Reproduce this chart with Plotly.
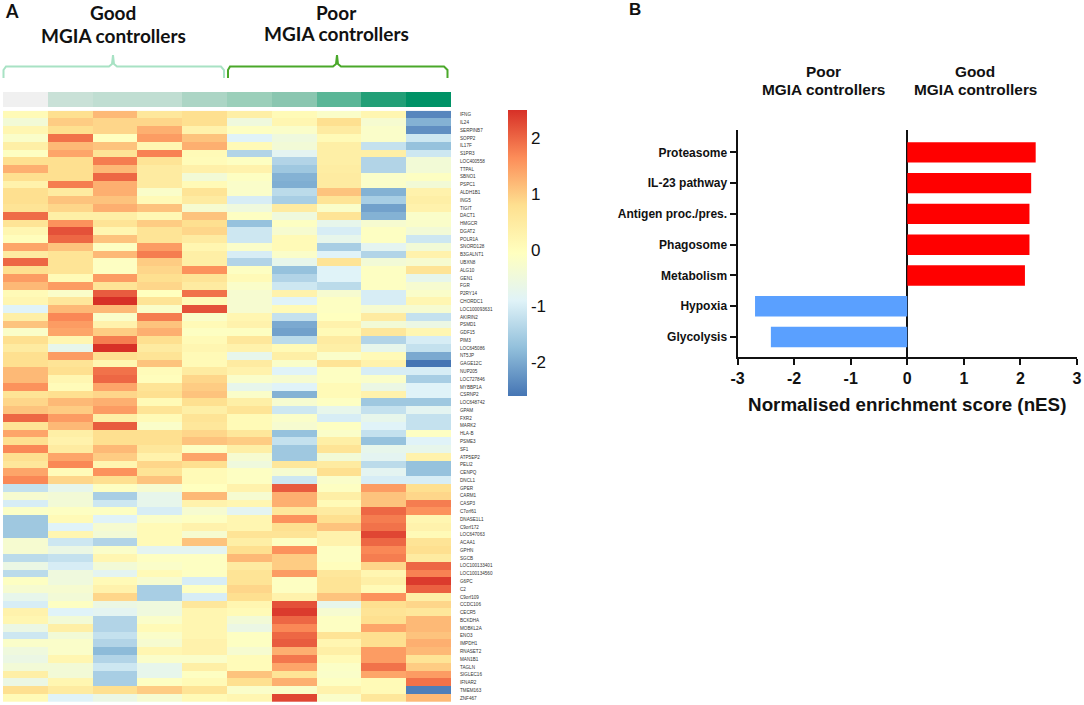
import plotly.graph_objects as go

W, H = 1084, 705

genes = ["IFNG","IL24","SERPINB7","SOPP2","IL17F","S1PR3","LOC400558","TTPAL","SBNO1","PSPC1","ALDH1B1","ING5","TIGIT","DACT1","HMGCR","DGAT2","POLR1A","SNORD128","B3GALNT1","UBXN8","ALG10","GEN1","FGR","P2RY14","CHORDC1","LOC100093631","AKIRIN2","PSMD1","GDF15","PIM3","LOC645086","NT5JP","GAGE12C","NUP205","LOC727846","MYBBP1A","CSRNP2","LOC648742","GPAM","FXR2","MARK2","HLA-B","PSME3","SF1","ATP5EP2","PELI2","CENPQ","DNCL1","GPER","CARM1","CASP3","C7orf61","DNASE1L1","C9orf172","LOC647063","ACAA1","GPHN","SGCB","LOC100133401","LOC100134560","G6PC","C2","C9orf109","CCDC106","CECR5","BCKDHA","MOBKL2A","ENO3","IMPDH1","RNASET2","MAN1B1","TAGLN","SIGLEC16","IFNAR2","TMEM163","ZNF467"]

samples = ["S1","S2","S3","S4","S5","S6","S7","S8","S9","S10"]

expression = [
[0.1,0.8,1.2,0.6,0.8,0.4,0.1,-0.2,0.2,-2.4],
[-0.4,1.0,0.9,0.9,0.8,-0.5,0.2,0.8,-0.3,-1.9],
[0.2,0.8,0.9,1.3,0.3,-0.1,-0.2,0.5,-0.2,-2.3],
[-0.2,1.9,-0.05,1.5,1.1,-0.9,-0.5,0.1,-0.2,-1.1],
[0.4,1.2,1.1,0.2,1.3,0.1,-0.4,0.4,-1.2,-1.7],
[-0.1,1.4,0.7,1.75,0.1,-1.4,-0.8,0.4,0.4,-1.1],
[0.8,0.8,1.8,0.7,0.05,-0.1,-1.4,0.4,-1.4,-0.4],
[1.3,0.8,1.2,0.5,0.35,0.3,-1.6,0.45,-1.4,-0.4],
[0.8,0.8,2.0,0.5,-0.4,-0.1,-1.9,0.5,-0.2,-0.1],
[0.3,1.8,1.3,0.5,0.1,-0.2,-1.95,0.5,-0.2,-0.4],
[0.8,0.5,1.3,-0.2,0.7,-0.2,-1.3,1.1,-1.9,0.3],
[0.8,1.1,1.1,0.1,0.5,-1.0,-1.5,0.7,-1.5,0.4],
[0.7,0.9,1.3,1.1,-0.3,-0.5,0.5,-0.2,-2.1,0.3],
[1.95,0.4,0.4,0.15,1.1,-0.1,-0.5,0.7,-1.9,-0.2],
[0.7,1.6,0.7,1.0,0.8,-1.7,-0.1,-0.7,-0.3,-0.2],
[0.2,2.2,0.2,0.7,0.9,-1.1,-0.3,-1.0,-0.1,-0.4],
[0.0,2.0,1.1,0.7,0.5,-1.1,0.1,-0.7,-0.1,-1.1],
[1.4,1.1,-0.1,1.5,0.2,-0.2,0.1,-1.5,-0.8,-0.4],
[0.5,0.7,1.2,1.8,0.4,-1.0,-0.2,-0.9,-1.4,0.3],
[2.0,0.7,-0.1,1.0,0.4,-1.4,-0.7,0.7,-0.4,-0.3],
[0.8,0.7,-0.1,0.9,1.6,-0.1,-1.7,-0.9,-0.1,0.7],
[1.5,0.1,1.5,0.8,0.7,0.1,-1.4,-0.9,-0.1,-0.7],
[1.2,1.5,0.7,0.9,0.5,-0.2,-1.1,-1.3,-0.1,-0.3],
[0.1,-0.2,2.1,-0.05,1.9,-0.3,0.3,-0.3,-1.0,-0.2],
[0.2,0.6,2.5,0.7,0.1,-0.3,-0.9,-0.1,-1.0,0.2],
[-0.9,1.2,1.2,-0.2,2.2,-0.3,0.1,-0.1,-0.3,-0.3],
[0.4,1.7,-0.2,1.8,-0.2,0.2,-1.2,-0.05,0.5,-1.2],
[1.1,1.5,0.3,1.1,0.1,0.3,-2.0,0.3,-0.4,-0.6],
[-0.2,1.4,1.0,1.3,-0.1,-0.1,-2.1,0.1,0.6,0.2],
[0.8,0.2,1.8,0.8,0.1,0.6,-1.3,0.5,-1.4,-1.0],
[0.5,-0.7,2.5,0.5,0.2,0.3,0.1,0.4,-0.7,-1.2],
[0.8,1.5,0.8,0.7,0.1,-0.7,0.4,-0.2,0.1,-2.0],
[0.8,0.7,0.2,1.1,0.1,0.5,-0.2,0.7,0.3,-2.6],
[1.2,0.8,1.9,0.05,0.5,0.3,-0.9,-0.1,-1.0,-1.0],
[1.2,0.2,2.0,0.0,0.9,-0.2,-0.3,-0.1,-0.2,-1.5],
[1.6,0.05,1.4,0.7,1.0,-0.7,-0.9,0.1,-0.6,-0.9],
[0.7,0.8,0.9,0.8,1.1,-0.2,-1.9,0.1,0.3,-0.9],
[0.9,1.2,1.3,0.1,0.8,0.4,-0.3,-0.1,-1.6,-1.6],
[1.1,1.0,1.5,0.7,0.4,0.7,-1.1,-0.7,-1.2,-0.8],
[2.0,1.5,0.4,0.1,0.7,0.1,-0.2,-1.0,-0.7,-1.2],
[0.7,1.2,2.1,-0.2,0.6,0.1,-0.3,-0.1,-0.9,-1.2],
[1.4,0.4,0.8,0.8,0.9,0.6,-1.7,-0.2,-1.2,-0.1],
[0.8,0.3,0.8,0.8,1.1,1.0,-1.2,0.4,-1.7,-0.9],
[1.7,0.5,1.2,0.6,-0.1,0.4,-1.6,0.7,-0.7,-0.7],
[0.8,1.4,1.0,0.3,1.4,-0.3,-1.6,-0.4,-0.8,0.3],
[0.6,1.7,0.2,0.9,0.8,-0.5,0.6,0.5,-1.3,-1.7],
[1.4,0.05,1.6,0.7,0.1,-0.1,-0.3,0.8,-0.8,-1.7],
[1.7,0.9,0.8,1.1,0.1,-0.1,-1.1,-0.2,-1.0,-1.0],
[-1.2,-0.7,-0.1,-0.3,-0.05,0.3,2.1,-0.1,1.5,0.8],
[-0.3,-0.4,-1.5,-0.7,1.2,-0.3,1.3,0.4,1.1,0.9],
[-1.0,-0.4,-1.1,-0.7,0.3,0.2,1.3,0.1,1.1,1.8],
[-0.15,-0.1,-0.1,-1.0,-0.3,-0.8,0.6,0.5,2.0,1.6],
[-1.6,0.1,-0.9,-0.2,-0.1,0.2,1.6,0.8,1.8,0.2],
[-1.6,-0.9,-0.3,0.1,0.3,0.2,0.8,1.1,1.9,0.3],
[-1.6,0.2,-0.4,0.1,-0.3,0.7,0.7,0.3,2.3,0.1],
[-0.3,-1.1,-1.4,0.1,1.1,0.4,-0.1,0.3,2.0,0.7],
[-0.3,-0.6,-0.2,-0.8,-0.8,0.8,1.6,-0.1,1.7,0.8],
[-1.3,-1.2,0.2,-0.1,-0.1,1.2,1.0,-0.1,1.8,0.5],
[-0.6,-1.0,-0.4,-0.2,-0.1,0.5,1.0,0.0,0.9,2.0],
[-1.3,-0.5,-0.8,0.1,-0.1,0.7,1.5,0.6,0.2,1.75],
[-0.1,-0.5,0.1,-0.3,-1.0,0.7,-0.1,0.7,0.4,2.4],
[-0.3,-0.3,0.3,-1.5,-0.1,0.9,-0.1,0.7,0.1,2.05],
[-0.7,-0.4,0.9,-1.5,-1.0,0.8,0.3,1.1,1.6,0.4],
[-1.0,-0.1,-0.6,-0.5,0.6,0.2,2.2,-0.7,0.8,0.9],
[0.3,-0.9,-0.8,-0.5,0.2,0.1,2.4,-0.3,0.7,0.6],
[0.2,-0.4,-1.4,-0.2,0.2,-0.4,2.0,-0.1,0.8,1.2],
[-0.6,0.4,-1.4,0.1,0.2,-0.6,1.7,-0.1,1.4,1.2],
[-1.1,-0.4,-1.2,-0.2,0.2,-0.1,2.0,0.7,0.8,1.1],
[-0.2,-0.2,-1.4,-0.3,0.3,-0.1,2.1,0.2,0.8,1.3],
[-0.5,-0.2,-1.8,0.2,0.3,-0.3,1.3,0.4,1.5,1.2],
[-0.6,0.2,-1.4,-0.2,-0.2,0.05,1.85,0.1,1.5,0.7],
[-0.4,-0.4,-1.1,-0.7,0.4,0.05,1.4,-0.15,1.9,1.0],
[0.4,-0.4,-1.5,-0.7,-0.1,1.1,0.7,-0.2,1.4,1.5],
[-0.6,0.2,-1.5,-0.1,0.1,0.8,1.3,-0.1,0.1,1.9],
[0.8,0.5,0.8,1.0,0.7,-0.2,-0.2,0.3,0.1,-2.5],
[0.1,-0.9,-0.6,-0.3,0.1,0.2,2.3,-0.2,0.6,1.2],
]

mgia_score = [0, 1, 2, 2, 3, 4, 5, 6, 7, 8]
mgia_colors = ["#f0f0f0", "#c9e1d7", "#c0ded2", "#acd5c5", "#9bcfba", "#8ac6b0", "#5ab697", "#229f77", "#009266"]

pathways = ["Proteasome", "IL-23 pathway", "Antigen proc./pres.", "Phagosome", "Metabolism", "Hypoxia", "Glycolysis"]
nes = [2.27, 2.19, 2.16, 2.16, 2.08, -2.69, -2.41]
bar_colors = ["#ff0000"] * 5 + ["#5aa0ff"] * 2


def px(x):
    return x / W


def py(y):
    return 1 - y / H


SANS = "Liberation Sans"
CAL = "Lato"
INK = "#111111"

fig = go.Figure()

fig.add_trace(go.Heatmap(
    z=expression, x=samples, y=genes, xaxis="x", yaxis="y",
    zmin=-2.6, zmax=2.5,
    colorscale=[[0, "#4575b4"], [1/6, "#91bfdb"], [2/6, "#e0f3f8"], [3/6, "#ffffbf"],
                [4/6, "#fee090"], [5/6, "#fc8d59"], [1, "#d73027"]],
    hoverinfo="skip",
    colorbar=dict(
        x=px(508), xanchor="left", y=py(110), yanchor="top", xpad=0, ypad=0,
        len=286 / H, lenmode="fraction", thickness=19, thicknessmode="pixels",
        tickvals=[-2, -1, 0, 1, 2], ticktext=["-2", "-1", "0", "1", "2"],
        ticks="", outlinewidth=0, tickfont=dict(family=SANS, size=17, color=INK),
    ),
))

fig.add_trace(go.Heatmap(
    z=[mgia_score], x=samples, y=["MGIA"], xaxis="x2", yaxis="y2",
    zmin=0, zmax=8, showscale=False, hoverinfo="skip",
    colorscale=[[i / 8, c] for i, c in enumerate(mgia_colors)],
))

fig.add_trace(go.Bar(
    x=nes, y=pathways, orientation="h", xaxis="x3", yaxis="y3",
    marker=dict(color=bar_colors, line_width=0), width=0.66, hoverinfo="skip", showlegend=False,
))

fig.update_layout(
    width=W, height=H, margin=dict(l=0, r=0, t=0, b=0, autoexpand=False),
    paper_bgcolor="white", plot_bgcolor="white", showlegend=False,
    xaxis=dict(domain=[px(3), px(451)], showticklabels=False, ticks="", showgrid=False, zeroline=False, anchor="y"),
    yaxis=dict(domain=[py(702), py(110.7)], side="right", autorange="reversed", tickmode="array",
               tickvals=genes, ticktext=genes, ticks="", showgrid=False, zeroline=False, anchor="x",
               ticklabelstandoff=8, tickfont=dict(family=SANS, size=4.6, color="#333333")),
    xaxis2=dict(domain=[px(3), px(451)], showticklabels=False, ticks="", showgrid=False, zeroline=False, anchor="y2"),
    yaxis2=dict(domain=[py(107), py(92)], showticklabels=False, ticks="", showgrid=False, zeroline=False, anchor="x2"),
    xaxis3=dict(domain=[px(737.5), px(1077)], range=[-3, 3], tickvals=[-3, -2, -1, 0, 1, 2, 3],
                ticktext=["-3", "-2", "-1", "0", "1", "2", "3"], ticks="outside", ticklen=6, tickwidth=2,
                tickcolor=INK, showline=True, linecolor=INK, linewidth=2, showgrid=False,
                zeroline=True, zerolinecolor=INK, zerolinewidth=2, anchor="y3",
                tickfont=dict(family=SANS, size=16, color=INK, weight=700),
                title=dict(text="Normalised enrichment score (nES)", standoff=12,
                           font=dict(family=SANS, size=18.8, color=INK, weight=700))),
    yaxis3=dict(domain=[py(357), py(130)], range=[6.65, -0.73], categoryorder="array", categoryarray=pathways,
                ticks="outside", ticklen=6, tickwidth=2, tickcolor=INK, showline=True, linecolor=INK,
                linewidth=2, showgrid=False, zeroline=False, anchor="x3",
                tickfont=dict(family=SANS, size=12, color=INK, weight=700)),
)


def paper_path(points):
    return "M " + " L ".join(f"{px(x):.5f} {py(y):.5f}" for x, y in points)


light = [(3.5, 78), (3.5, 70), (6, 66.5), (109, 66.5), (112, 64), (113, 55), (114, 64), (117, 66.5), (221, 66.5), (224, 70), (224, 78)]
dark = [(228, 78), (228, 70), (230, 66.5), (333, 66.5), (336, 64), (337, 55), (338, 64), (341, 66.5), (444, 66.5), (447.5, 70), (447.5, 78)]
fig.update_layout(shapes=[
    dict(type="path", path=paper_path(light), xref="paper", yref="paper", line=dict(color="#a8e2c4", width=2)),
    dict(type="path", path=paper_path(dark), xref="paper", yref="paper", line=dict(color="#4aa82a", width=2)),
])


def label(text, x, y, size, family, xanchor="center"):
    fig.add_annotation(text=text, x=px(x), y=py(y), xref="paper", yref="paper", showarrow=False,
                       xanchor=xanchor, yanchor="middle",
                       font=dict(family=family, size=size, color=INK, weight=700))


label("A", 12, 11, 18, CAL)
label("Good", 113, 12, 19, CAL)
label("MGIA controllers", 113, 36, 19, CAL)
label("Poor", 336, 12, 19, CAL)
label("MGIA controllers", 336, 34, 19, CAL)
label("B", 635, 9, 17, SANS)
label("Poor", 823, 71, 15.4, SANS)
label("MGIA controllers", 823, 90, 15.4, SANS)
label("Good", 975, 71, 15.4, SANS)
label("MGIA controllers", 975, 90, 15.4, SANS)

fig.write_html("out.html", post_script="document.body.style.margin='0';",
               config={"displayModeBar": False})
